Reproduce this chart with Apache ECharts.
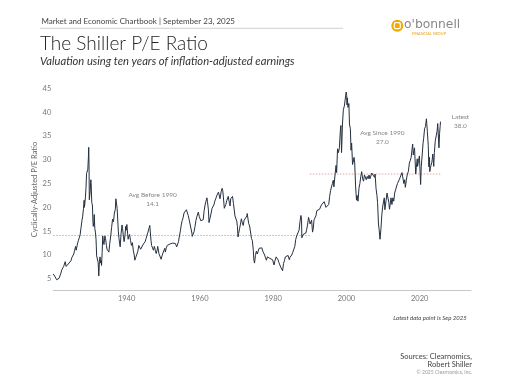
<!DOCTYPE html>
<html>
<head>
<meta charset="utf-8">
<script src="https://cdn.jsdelivr.net/npm/echarts@6/dist/echarts.min.js"></script>
<style>
html,body{margin:0;padding:0;background:#fff;}
#chart{width:512px;height:384px;}
</style>
</head>
<body>
<div id="chart"></div>
<script>
// Shiller CAPE readings [year, value]
const cape1920s = [[1920.00,6.0],[1920.25,5.8],[1920.50,5.4],[1920.75,5.2],[1920.92,4.8],
[1921.17,5.2],[1921.42,5.0],[1921.58,5.1],[1921.83,5.5],
[1922.08,6.2],[1922.33,6.9],[1922.58,7.3],[1922.83,7.6],
[1923.08,7.8],[1923.25,8.6],[1923.50,7.6],[1923.83,7.4],
[1924.08,8.1],[1924.33,7.7],[1924.58,8.4],[1924.83,8.8],
[1925.08,9.5],[1925.33,9.4],[1925.58,10.2],[1925.83,11.0],
[1926.08,11.8],[1926.25,11.0],[1926.58,12.3],[1926.83,13.0],
[1927.08,13.6],[1927.33,14.3],[1927.58,15.8],[1927.83,17.3],
[1928.00,18.0],[1928.25,19.8],[1928.42,21.5],[1928.50,20.0],[1928.75,22.0],[1928.92,24.0],
[1929.08,27.1],[1929.25,27.0],[1929.42,28.0],[1929.58,30.5],[1929.67,32.6],[1929.75,29.0],[1929.83,21.6],[1929.92,22.0]];
const cape1930s = [[1930.08,23.5],[1930.25,25.8],[1930.33,25.0],[1930.50,21.0],[1930.67,20.5],[1930.83,16.8],[1930.92,16.0],
[1931.08,17.0],[1931.17,18.5],[1931.33,15.5],[1931.50,14.8],[1931.67,13.2],[1931.83,9.8],[1931.92,9.5],
[1932.08,9.6],[1932.25,8.4],[1932.42,5.6],[1932.58,8.7],[1932.75,9.6],[1932.92,8.3],
[1933.08,8.8],[1933.17,7.8],[1933.33,10.5],[1933.50,14.0],[1933.67,12.7],[1933.83,12.2],
[1934.08,14.0],[1934.25,13.5],[1934.50,12.0],[1934.67,11.2],[1934.92,11.6],
[1935.17,10.6],[1935.42,12.5],[1935.67,14.0],[1935.92,15.8],
[1936.17,17.5],[1936.42,17.0],[1936.67,18.8],[1936.92,19.5],
[1937.08,21.8],[1937.17,22.2],[1937.42,19.8],[1937.58,20.2],[1937.75,15.0],[1937.92,13.5],
[1938.08,13.5],[1938.25,11.7],[1938.50,14.5],[1938.75,16.3],[1938.92,15.5],
[1939.17,13.6],[1939.33,12.8],[1939.58,14.2],[1939.75,16.0],[1939.92,15.2]];
const cape1940s = [[1940.08,16.4],[1940.25,16.8],[1940.42,13.3],[1940.58,13.8],[1940.83,14.3],
[1941.08,13.0],[1941.33,12.0],[1941.58,12.6],[1941.83,11.0],
[1942.08,10.0],[1942.25,8.9],[1942.50,9.5],[1942.83,10.2],
[1943.08,10.8],[1943.33,12.0],[1943.58,11.7],[1943.83,11.2],
[1944.08,11.4],[1944.33,11.6],[1944.58,12.3],[1944.83,12.3],
[1945.08,12.8],[1945.33,13.5],[1945.58,13.3],[1945.83,14.8],
[1946.08,15.5],[1946.33,16.2],[1946.50,15.8],[1946.67,13.0],[1946.83,12.0],
[1947.08,11.6],[1947.33,11.0],[1947.58,11.8],[1947.83,11.0],
[1948.08,10.3],[1948.33,11.0],[1948.50,11.8],[1948.83,10.3],
[1949.08,10.0],[1949.42,9.1],[1949.67,9.8],[1949.92,10.4]];
const cape1950s = [[1950.17,10.8],[1950.42,11.4],[1950.58,10.6],[1950.83,11.5],
[1951.08,12.0],[1951.33,12.2],[1951.58,12.0],[1951.83,12.3],
[1952.08,12.4],[1952.33,12.2],[1952.58,12.5],[1952.83,12.3],
[1953.08,12.8],[1953.33,12.4],[1953.67,11.7],[1953.92,12.0],
[1954.17,12.8],[1954.42,14.0],[1954.67,15.0],[1954.92,16.3],
[1955.17,17.2],[1955.42,17.8],[1955.67,18.8],[1955.92,18.6],
[1956.17,18.7],[1956.33,19.5],[1956.58,19.3],[1956.83,18.3],
[1957.08,17.4],[1957.33,17.6],[1957.58,17.8],[1957.83,14.6],[1957.92,13.9],
[1958.17,14.3],[1958.42,14.9],[1958.67,16.0],[1958.92,17.2],
[1959.17,18.0],[1959.42,18.3],[1959.58,19.0],[1959.83,18.1]];
const cape1960s = [[1960.08,18.3],[1960.25,17.2],[1960.50,17.5],[1960.75,16.8],[1960.92,17.4],
[1961.17,19.3],[1961.42,20.5],[1961.67,20.8],[1961.92,22.0],
[1962.08,21.2],[1962.33,19.5],[1962.50,16.8],[1962.75,17.0],
[1963.08,18.8],[1963.33,19.8],[1963.58,19.6],[1963.83,20.5],
[1964.08,21.3],[1964.33,21.8],[1964.58,22.4],[1964.83,22.5],
[1965.08,23.2],[1965.33,23.4],[1965.50,21.8],[1965.83,23.4],
[1966.08,24.0],[1966.25,23.5],[1966.42,22.2],[1966.67,19.8],[1966.83,19.5],
[1967.08,20.6],[1967.33,21.4],[1967.58,21.8],[1967.75,22.3],
[1968.08,20.8],[1968.25,20.3],[1968.42,21.8],[1968.67,21.6],[1968.92,22.3],
[1969.17,20.8],[1969.42,20.5],[1969.58,18.2],[1969.83,18.4]];
const cape1970s = [[1970.08,17.1],[1970.25,16.0],[1970.42,13.8],[1970.58,14.5],[1970.83,15.5],
[1971.08,16.5],[1971.33,17.6],[1971.58,16.8],[1971.83,16.2],
[1972.08,17.3],[1972.33,17.6],[1972.58,17.6],[1972.83,18.2],[1972.92,18.7],
[1973.08,18.6],[1973.33,16.6],[1973.58,16.1],[1973.83,16.3],
[1974.08,13.5],[1974.33,13.0],[1974.58,11.0],[1974.75,8.9],[1974.92,8.3],
[1975.17,9.9],[1975.42,10.8],[1975.67,10.2],[1975.92,10.5],
[1976.17,11.4],[1976.42,11.4],[1976.67,11.6],[1976.92,11.5],
[1977.17,10.8],[1977.42,10.5],[1977.67,10.0],[1977.92,9.4],
[1978.17,8.9],[1978.42,9.6],[1978.67,10.0],[1978.83,9.2],
[1979.08,9.3],[1979.33,9.3],[1979.58,9.4],[1979.83,9.0]];
const cape1980s = [[1980.08,9.0],[1980.25,7.9],[1980.50,8.8],[1980.83,9.6],
[1981.08,9.3],[1981.33,9.0],[1981.58,8.4],[1981.83,7.9],
[1982.08,7.4],[1982.33,7.6],[1982.58,6.7],[1982.83,8.2],
[1983.08,8.8],[1983.33,9.6],[1983.50,10.0],[1983.83,9.6],
[1984.08,9.9],[1984.42,9.0],[1984.58,9.5],[1984.83,9.8],
[1985.08,10.0],[1985.33,10.5],[1985.58,10.8],[1985.92,11.8],
[1986.17,13.3],[1986.42,14.0],[1986.58,14.0],[1986.83,14.2],
[1987.08,15.2],[1987.33,17.0],[1987.58,18.3],[1987.75,17.5],[1987.83,13.6],[1987.92,13.7],
[1988.17,14.3],[1988.42,14.5],[1988.67,14.3],[1988.92,14.6],
[1989.17,15.4],[1989.42,16.5],[1989.67,17.9],[1989.92,17.1]];
const cape1990s = [[1990.08,16.5],[1990.25,16.9],[1990.50,17.3],[1990.75,14.8],[1990.92,15.4],
[1991.17,17.4],[1991.42,17.5],[1991.67,18.2],[1991.92,19.3],
[1992.17,19.6],[1992.42,19.7],[1992.67,19.6],[1992.92,20.0],
[1993.17,20.5],[1993.42,20.6],[1993.67,20.9],[1993.92,21.2],
[1994.17,20.8],[1994.42,20.0],[1994.67,20.4],[1994.92,19.6],
[1995.17,20.6],[1995.42,22.3],[1995.67,23.5],[1995.92,24.3],
[1996.17,25.0],[1996.42,25.7],[1996.58,24.3],[1996.92,27.0],
[1997.17,28.8],[1997.33,27.3],[1997.58,32.3],[1997.83,31.5],
[1998.08,32.5],[1998.33,36.0],[1998.50,37.2],[1998.67,31.5],[1998.92,37.5],
[1999.17,40.6],[1999.42,41.2],[1999.58,41.0],[1999.83,41.5],[1999.92,44.2]];
const cape2000s = [[2000.08,43.5],[2000.17,41.5],[2000.25,43.0],[2000.42,41.0],[2000.67,41.8],[2000.83,37.5],
[2001.08,36.5],[2001.25,32.0],[2001.42,33.5],[2001.67,29.0],[2001.83,29.5],
[2002.08,30.5],[2002.25,29.5],[2002.50,24.5],[2002.75,21.5],[2002.92,22.5],
[2003.17,21.3],[2003.42,24.0],[2003.67,25.0],[2003.92,26.5],
[2004.17,27.5],[2004.42,26.0],[2004.67,25.5],[2004.92,26.8],
[2005.17,26.5],[2005.42,25.8],[2005.67,26.5],[2005.92,26.0],
[2006.17,26.8],[2006.42,26.0],[2006.67,26.3],[2006.92,27.2],
[2007.17,27.0],[2007.42,27.6],[2007.67,26.3],[2007.83,27.0],
[2008.08,24.0],[2008.33,22.5],[2008.50,21.0],[2008.75,16.5],[2008.92,15.4],
[2009.17,13.3],[2009.42,15.5],[2009.67,18.5],[2009.92,20.3]];
const cape2010s = [[2010.17,20.5],[2010.33,22.0],[2010.50,19.5],[2010.83,21.5],
[2011.08,23.0],[2011.33,23.4],[2011.58,21.0],[2011.75,19.6],[2011.92,20.5],
[2012.17,22.0],[2012.42,20.6],[2012.67,22.0],[2012.92,21.3],
[2013.17,23.0],[2013.42,23.7],[2013.67,24.0],[2013.92,25.0],
[2014.17,25.0],[2014.42,25.8],[2014.67,26.3],[2014.92,26.6],
[2015.17,27.3],[2015.42,27.2],[2015.67,25.0],[2015.92,25.8],
[2016.08,24.2],[2016.33,25.6],[2016.58,26.8],[2016.92,27.6],
[2017.17,29.3],[2017.42,29.8],[2017.67,30.5],[2017.92,32.3],
[2018.08,33.3],[2018.25,31.0],[2018.58,32.5],[2018.75,32.9],[2018.92,27.0],
[2019.08,28.4],[2019.33,30.2],[2019.42,28.6],[2019.67,29.8],[2019.92,30.8]];
const cape2020s = [[2020.08,31.0],[2020.25,24.8],[2020.42,28.5],[2020.67,31.0],[2020.92,33.5],
[2021.08,34.5],[2021.33,36.5],[2021.58,37.0],[2021.83,38.6],[2021.92,38.3],
[2022.08,36.0],[2022.33,33.0],[2022.50,28.5],[2022.67,30.5],[2022.75,27.5],[2022.92,28.3],
[2023.08,28.8],[2023.33,29.5],[2023.58,31.2],[2023.83,28.6],
[2024.00,31.5],[2024.25,34.0],[2024.50,35.0],[2024.75,36.0],[2024.92,37.6],
[2025.08,37.5],[2025.25,32.5],[2025.42,35.5],[2025.58,37.0],[2025.67,38.0]];

const avgBefore1990 = 14.1;
const avgSince1990 = 27.0;
const latestValue = 38.0;
const avgBeforeSpan = [1920, 1990];
const avgSinceSpan = [1990, 2025.67];
const xTicks = [1940, 1960, 1980, 2000, 2020];
const yTicks = [5, 10, 15, 20, 25, 30, 35, 40, 45];

const capeData = [].concat(cape1920s, cape1930s, cape1940s, cape1950s, cape1960s,
  cape1970s, cape1980s, cape1990s, cape2000s, cape2010s, cape2020s);

const FONT = 'Lato, "Noto Sans", sans-serif';
const chart = echarts.init(document.getElementById('chart'), null, {renderer: 'canvas'});

const gText = (x, y, text, size, color, opts) => ({
  type: 'text', x: x, y: y,
  style: Object.assign({text: text, fontFamily: 'Lato', fontSize: size, fill: color,
    textAlign: 'left', textVerticalAlign: 'middle'}, (opts || {}))
});

chart.setOption({
  animation: false,
  backgroundColor: '#fff',
  grid: {left: 53.3, right: 41, top: 88.3, bottom: 93.3},
  xAxis: {
    type: 'value', min: 1920, max: 2034, interval: 20,
    axisLine: {show: true, lineStyle: {color: '#c8c8c8', width: 1}},
    axisTick: {show: false},
    splitLine: {show: false},
    axisLabel: {
      color: '#777', fontSize: 7.5, fontFamily: FONT, margin: 4,
      showMinLabel: false, showMaxLabel: false,
      formatter: v => xTicks.indexOf(v) >= 0 ? String(v) : ''
    }
  },
  yAxis: {
    type: 'value', min: 2.5, max: 45, interval: 2.5,
    axisLine: {show: false}, axisTick: {show: false}, splitLine: {show: false},
    axisLabel: {
      color: '#777', fontSize: 7.5, fontFamily: FONT, margin: 2,
      formatter: v => yTicks.indexOf(v) >= 0 ? String(v) : ''
    },
    name: 'Cyclically-Adjusted P/E Ratio', nameLocation: 'middle', nameGap: 15,
    nameMoveOverlap: false,
    nameTextStyle: {color: '#666', fontSize: 7.5, fontFamily: FONT}
  },
  series: [
    {
      type: 'line', data: avgBeforeSpan.map(x => [x, avgBefore1990]),
      showSymbol: false, silent: true,
      lineStyle: {color: '#d48f8f', width: 0.8, type: [1.5, 1.5]}, z: 1
    },
    {
      type: 'line', data: avgSinceSpan.map(x => [x, avgSince1990]),
      showSymbol: false, silent: true,
      lineStyle: {color: '#d48f8f', width: 0.8, type: [1.5, 1.5]}, z: 1
    },
    {
      type: 'line', data: capeData, showSymbol: false,
      lineStyle: {color: '#24303f', width: 1}, z: 3
    },
    {
      type: 'scatter', symbolSize: 0, silent: true,
      data: [
        {value: [1947.1, 21.65], label: {formatter: 'Avg Before 1990\n' + avgBefore1990.toFixed(1)}},
        {value: [2009.8, 34.7], label: {formatter: 'Avg Since 1990\n' + avgSince1990.toFixed(1)}},
        {value: [2031.1, 38.1], label: {formatter: 'Latest\n' + latestValue.toFixed(1)}}
      ],
      label: {show: true, position: 'inside', color: '#666', fontSize: 6.5,
        fontFamily: FONT, lineHeight: 9, align: 'center', verticalAlign: 'middle'}
    }
  ],
  graphic: [
    gText(41.5, 21.3, 'Market and Economic Chartbook | September 23, 2025', 8, '#444'),
    {type: 'line', shape: {x1: 40, y1: 28.3, x2: 343, y2: 28.3}, style: {stroke: '#c4c4c4', lineWidth: 0.8}},
    gText(40, 44, 'The Shiller P/E Ratio', 19, '#222', {fontWeight: 300}),
    gText(40, 61.5, 'Valuation using ten years of inflation-adjusted earnings', 11.2, '#333', {fontStyle: 'italic'}),
    {type: 'circle', shape: {cx: 397.3, cy: 25.7, r: 6}, style: {fill: '#f2a900'}},
    {type: 'rect', shape: {x: 394.3, y: 22.7, width: 6, height: 6, r: 1.5}, style: {fill: 'none', stroke: '#fff', lineWidth: 1.2}},
    gText(404, 25.3, "o'bonnell", 12.3, '#888', {fontFamily: '"DejaVu Sans"'}),
    gText(412, 33.7, 'FINANCIAL GROUP', 3.8, '#e8a317'),
    gText(466.7, 318, 'Latest data point is Sep 2025', 6, '#444', {textAlign: 'right', fontStyle: 'italic'}),
    gText(472, 357, 'Sources: Clearnomics,', 7.5, '#444', {textAlign: 'right'}),
    gText(472, 364.5, 'Robert Shiller', 7.5, '#444', {textAlign: 'right'}),
    gText(472, 372, '\u00a9 2025 Clearnomics, Inc.', 5, '#999', {textAlign: 'right'})
  ]
});
</script>
</body>
</html>
